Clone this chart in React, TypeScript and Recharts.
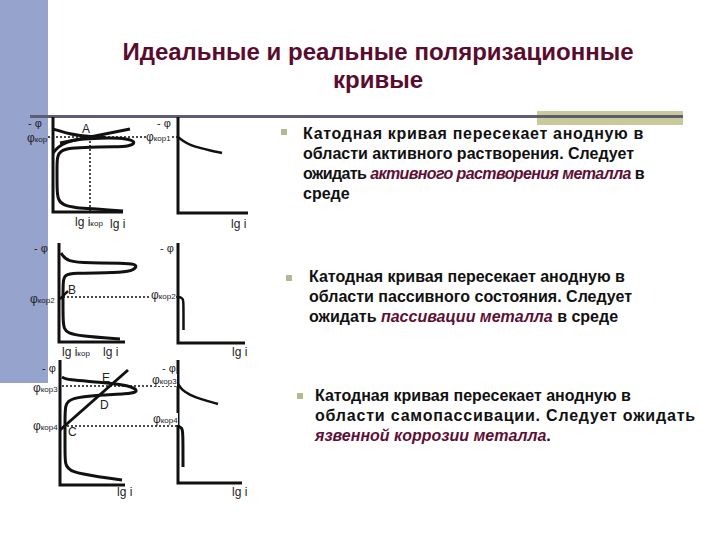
import React from "react";
import { LineChart, Line, XAxis, YAxis } from "recharts";

type P = { x: number; y: number };

// units: lg i (x) and -φ (y), origin at each diagram's axis corner

// row 1 – active dissolution
const row1AxisLeft: P[] = [{ x: 0, y: 9.5 }, { x: 0, y: 0 }, { x: 7, y: 0 }];
const row1AxisRight: P[] = [{ x: 12.5, y: 9.5 }, { x: 12.5, y: -0.1 }, { x: 19.5, y: -0.1 }];
const row1Anodic: P[] = [
  { x: 0, y: 5.9 }, { x: 0.5, y: 6.5 }, { x: 1.3, y: 7.0 }, { x: 2.7, y: 7.3 }, { x: 4.7, y: 7.4 },
  { x: 6.7, y: 7.4 }, { x: 7.9, y: 7.2 }, { x: 8.2, y: 6.9 }, { x: 7.7, y: 6.6 }, { x: 6.2, y: 6.5 },
  { x: 3.7, y: 6.5 }, { x: 1.7, y: 6.4 }, { x: 0.7, y: 6.1 }, { x: 0.4, y: 5.5 }, { x: 0.4, y: 4.2 },
  { x: 0.4, y: 2.2 }, { x: 0.5, y: 1.2 }, { x: 1.0, y: 0.7 }, { x: 2.2, y: 0.4 }, { x: 4.7, y: 0.3 },
  { x: 7.0, y: 0.1 },
];
const row1Cathodic: P[] = [
  { x: 0, y: 8.3 }, { x: 0.7, y: 8.1 }, { x: 1.7, y: 7.8 }, { x: 2.7, y: 7.65 }, { x: 3.7, y: 7.55 }, { x: 5.2, y: 7.45 },
];
const row1Tafel: P[] = [{ x: 0.7, y: 6.9 }, { x: 7.7, y: 8.3 }];
const row1Dash: P[] = [{ x: -0.5, y: 7.5 }, { x: 12.5, y: 7.5 }];
const row1DashV: P[] = [{ x: 3.7, y: 7.5 }, { x: 3.7, y: 0 }];
const row1RightCurve: P[] = [
  { x: 12.5, y: 7.5 }, { x: 13.0, y: 7.1 }, { x: 13.7, y: 6.7 }, { x: 14.7, y: 6.4 }, { x: 15.7, y: 6.15 }, { x: 16.9, y: 5.9 },
];

// row 2 – passive state
const row2AxisLeft: P[] = [{ x: 0, y: 9.9 }, { x: 0, y: 0 }, { x: 6.6, y: 0 }];
const row2AxisRight: P[] = [{ x: 11.9, y: 9.9 }, { x: 11.9, y: -0.1 }, { x: 18.6, y: -0.1 }];
const row2Anodic: P[] = [
  { x: 0.2, y: 8.9 }, { x: 0.8, y: 8.0 }, { x: 3.1, y: 7.9 }, { x: 6.4, y: 7.9 }, { x: 7.6, y: 7.8 },
  { x: 7.8, y: 7.5 }, { x: 7.1, y: 7.0 }, { x: 4.8, y: 6.9 }, { x: 1.4, y: 6.9 }, { x: 0.6, y: 6.7 },
  { x: 0.4, y: 6.2 }, { x: 0.4, y: 4.2 }, { x: 0.4, y: 2.2 }, { x: 0.5, y: 1.3 }, { x: 0.9, y: 0.9 },
  { x: 2.1, y: 0.6 }, { x: 6.1, y: 0.3 },
];
const row2Cathodic: P[] = [{ x: 0.1, y: 4.3 }, { x: 0.4, y: 4.6 }, { x: 0.9, y: 5.1 }];
const row2Dash: P[] = [{ x: 0.4, y: 4.5 }, { x: 11.9, y: 4.5 }];
const row2RightCurve: P[] = [
  { x: 11.9, y: 4.5 }, { x: 12.2, y: 4.45 }, { x: 12.4, y: 4.3 }, { x: 12.45, y: 4.0 }, { x: 12.45, y: 1.2 },
];

// row 3 – self-passivation
const row3AxisLeft: P[] = [{ x: 0, y: 12.5 }, { x: 0, y: 0 }, { x: 6.5, y: 0 }];
const row3AxisRight: P[] = [{ x: 11.8, y: 12.5 }, { x: 11.8, y: 0.2 }, { x: 18.2, y: 0.2 }];
const row3Anodic: P[] = [
  { x: 0.2, y: 10.8 }, { x: 0.7, y: 10.5 }, { x: 4.0, y: 10.3 }, { x: 6.7, y: 10.0 }, { x: 7.6, y: 9.6 },
  { x: 7.7, y: 9.3 }, { x: 6.7, y: 9.1 }, { x: 4.0, y: 9.0 }, { x: 1.0, y: 8.7 }, { x: 0.5, y: 8.0 },
  { x: 0.5, y: 6.5 }, { x: 0.5, y: 3.5 }, { x: 0.5, y: 2.0 }, { x: 1.0, y: 1.3 }, { x: 4.0, y: 0.8 },
  { x: 6.2, y: 0.5 },
];
const row3Cathodic: P[] = [{ x: 0, y: 5.5 }, { x: 6.8, y: 11.5 }];
const row3Dash3: P[] = [{ x: 0.2, y: 9.9 }, { x: 11.8, y: 9.9 }];
const row3Dash4: P[] = [{ x: 0.3, y: 5.9 }, { x: 11.8, y: 5.9 }];
const row3RightCurve3: P[] = [
  { x: 11.8, y: 10.1 }, { x: 12.2, y: 9.5 }, { x: 13.0, y: 9.0 }, { x: 14.0, y: 8.6 }, { x: 15.8, y: 8.1 },
];
const row3RightCurve4: P[] = [
  { x: 11.8, y: 5.9 }, { x: 12.2, y: 5.7 }, { x: 12.3, y: 5.3 }, { x: 12.3, y: 1.8 },
];

const title1 = "Идеальные и реальные поляризационные";
const title2 = "кривые";

const INK = "#111";
const FONT = "'Liberation Sans', Arial, sans-serif";
const MAROON = "#5e0f35";

const curve = (data: P[], w = 3, type: any = "basis", dash?: string) => (
  <Line
    data={data}
    dataKey="y"
    type={type}
    stroke={INK}
    strokeWidth={w}
    strokeDasharray={dash}
    dot={false}
    activeDot={false}
    isAnimationActive={false}
  />
);

const Row = ({ left, top, width, height, xd, yd, children }: any) => (
  <div style={{ position: "absolute", left, top }}>
    <LineChart width={width} height={height} margin={{ top: 0, right: 0, bottom: 0, left: 0 }}>
      <XAxis type="number" dataKey="x" domain={xd} hide allowDataOverflow />
      <YAxis type="number" dataKey="y" domain={yd} hide allowDataOverflow />
      {children}
    </LineChart>
  </div>
);

const Lbl = ({ x, y, size = 12, bg, children }: any) => (
  <div
    style={{
      position: "absolute", left: x, top: y, fontSize: size, lineHeight: 1, whiteSpace: "nowrap",
      fontFamily: FONT, color: "#222", background: bg,
    }}
  >
    {children}
  </div>
);

const Kor = ({ n = "" }: any) => (
  <>φ<span style={{ fontSize: 8 }}>кор{n}</span></>
);

// each line: [content, letter spacing]
const Bullet = ({ x, y, bx, by, lines }: any) => (
  <>
    <div style={{ position: "absolute", left: bx, top: by, width: 6, height: 6, background: "#b3b98f" }} />
    <div
      style={{
        position: "absolute", left: x, top: y, fontFamily: FONT, fontWeight: "bold", fontSize: 16,
        lineHeight: "20px", color: INK, whiteSpace: "nowrap",
      }}
    >
      {lines.map((l: any, i: number) => (
        <div key={i} style={{ letterSpacing: l[1] }}>{l[0]}</div>
      ))}
    </div>
  </>
);

const Em = ({ children }: any) => <i style={{ color: MAROON }}>{children}</i>;

export default function App() {
  return (
    <div style={{ position: "absolute", left: 0, top: 0, width: 720, height: 540, background: "#fff", overflow: "hidden" }}>
      <div style={{ position: "absolute", left: 0, top: 0, width: 48, height: 383, background: "#95a3cd" }} />
      <div style={{ position: "absolute", left: 537, top: 111, width: 146, height: 14, background: "#c9c99a" }} />
      <div style={{ position: "absolute", left: 30, top: 115, width: 653, height: 3, background: "#5c5c74" }} />

      <div
        style={{
          position: "absolute", left: 78, top: 38, width: 600, textAlign: "center", fontFamily: FONT,
          fontWeight: "bold", fontSize: 24, lineHeight: "28px", color: "#5a0c2e",
        }}
      >
        <div>{title1}</div>
        <div>{title2}</div>
      </div>

      <Bullet
        x={303} y={124} bx={281} by={129}
        lines={[
          ["Катодная кривая пересекает анодную в", 0.7],
          ["области активного растворения. Следует", 0],
          [<>ожидать <Em>активного растворения металла</Em> в</>, -0.6],
          ["среде", 0],
        ]}
      />
      <Bullet
        x={309} y={267} bx={286} by={275}
        lines={[
          ["Катодная кривая пересекает анодную в", 0],
          ["области пассивного состояния. Следует", 0],
          [<>ожидать <Em>пассивации металла</Em> в среде</>, 0],
        ]}
      />
      <Bullet
        x={315} y={386} bx={297} by={393}
        lines={[
          ["Катодная кривая пересекает анодную в", 0],
          ["области самопассивации. Следует ожидать", 0.8],
          [<><Em>язвенной коррозии металла</Em>.</>, 0],
        ]}
      />

      <Row left={20} top={112} width={240} height={120} xd={[-3.3, 20.7]} yd={[-2, 10]}>
        {curve(row1Dash, 1.5, "linear", "2 2")}
        {curve(row1DashV, 1.5, "linear", "2 2")}
        {curve(row1AxisLeft, 3, "linear")}
        {curve(row1AxisRight, 3, "linear")}
        {curve(row1Anodic, 3)}
        {curve(row1Cathodic, 3)}
        {curve(row1Tafel, 3, "linear")}
        {curve(row1RightCurve, 2.5)}
      </Row>

      <Row left={20} top={238} width={240} height={120} xd={[-3.9, 20.1]} yd={[-1.6, 10.4]}>
        {curve(row2Dash, 1.5, "linear", "2 2")}
        {curve(row2AxisLeft, 3, "linear")}
        {curve(row2AxisRight, 3, "linear")}
        {curve(row2Anodic, 3)}
        {curve(row2Cathodic, 2.5)}
        {curve(row2RightCurve, 2.5)}
      </Row>

      <Row left={20} top={352} width={240} height={150} xd={[-4, 20]} yd={[-1.7, 13.3]}>
        {curve(row3Dash3, 1.5, "linear", "2 2")}
        {curve(row3Dash4, 1.5, "linear", "2 2")}
        {curve(row3AxisLeft, 3, "linear")}
        {curve(row3AxisRight, 3, "linear")}
        {curve(row3Anodic, 3)}
        {curve(row3Cathodic, 3, "linear")}
        {curve(row3RightCurve3, 2.5)}
        {curve(row3RightCurve4, 3)}
      </Row>

      {/* row 1 labels */}
      <Lbl x={28} y={118} size={11}>- φ</Lbl>
      <Lbl x={27} y={132}><Kor /></Lbl>
      <Lbl x={82} y={123}>A</Lbl>
      <Lbl x={157} y={118} size={11}>- φ</Lbl>
      <Lbl x={146} y={131} bg="#fff"><Kor n="1" /></Lbl>
      <Lbl x={75} y={216}>lg i<span style={{ fontSize: 8 }}>кор</span></Lbl>
      <Lbl x={110} y={218}>lg i</Lbl>
      <Lbl x={231} y={218}>lg i</Lbl>

      {/* row 2 labels */}
      <Lbl x={34} y={243} size={11}>- φ</Lbl>
      <Lbl x={160} y={243} size={11}>- φ</Lbl>
      <Lbl x={30} y={293}><Kor n="2" /></Lbl>
      <Lbl x={68} y={284}>B</Lbl>
      <Lbl x={151} y={289} bg="#fff"><Kor n="2" /></Lbl>
      <Lbl x={62} y={346}>lg i<span style={{ fontSize: 8 }}>кор</span></Lbl>
      <Lbl x={103} y={346}>lg i</Lbl>
      <Lbl x={232} y={346}>lg i</Lbl>

      {/* row 3 labels */}
      <Lbl x={42} y={363} size={11}>- φ</Lbl>
      <Lbl x={162} y={363} size={11}>- φ</Lbl>
      <Lbl x={102} y={372}>E</Lbl>
      <Lbl x={100} y={399}>D</Lbl>
      <Lbl x={68} y={426}>C</Lbl>
      <Lbl x={33} y={382}><Kor n="3" /></Lbl>
      <Lbl x={33} y={420}><Kor n="4" /></Lbl>
      <Lbl x={152} y={374} bg="#fff"><Kor n="3" /></Lbl>
      <Lbl x={153} y={413} bg="#fff"><Kor n="4" /></Lbl>
      <Lbl x={117} y={486}>lg i</Lbl>
      <Lbl x={232} y={486}>lg i</Lbl>
    </div>
  );
}
